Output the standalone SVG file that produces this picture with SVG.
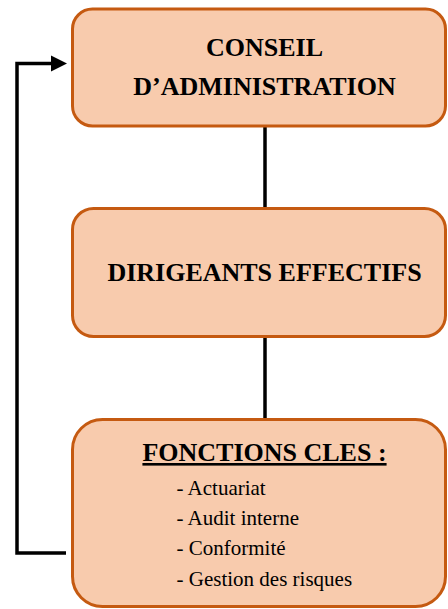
<svg xmlns="http://www.w3.org/2000/svg" width="448" height="609" viewBox="0 0 448 609">
<style>
.box{fill:#F8CBAD;stroke:#C55A11;stroke-width:3}
.title{font-weight:bold;font-size:26px;fill:#000;text-anchor:middle}
.item{font-size:21px;fill:#000}
.conn{fill:none;stroke:#000;stroke-width:3.5}
</style>
<g id="connectors">
<line class="conn" x1="265" y1="127" x2="265" y2="208"/>
<line class="conn" x1="265" y1="337" x2="265" y2="419"/>
<polyline class="conn" points="66,553 17,553 17,63.5 52,63.5"/>
<path d="M51,55.5 L67,63.5 L51,71.5 Z" fill="#000"/>
</g>
<g font-family="Liberation Serif, DejaVu Serif, serif">
<g id="conseil">
<rect class="box" x="72.5" y="9" width="373" height="117" rx="20" ry="20"/>
<text class="title" x="264.5" y="56">CONSEIL</text>
<text class="title" x="264.5" y="95">D’ADMINISTRATION</text>
</g>
<g id="dirigeants">
<rect class="box" x="72.5" y="208.5" width="373" height="128" rx="21" ry="21"/>
<text class="title" x="264.5" y="281">DIRIGEANTS EFFECTIFS</text>
</g>
<g id="fonctions">
<rect class="box" x="72.5" y="419.5" width="373" height="187" rx="30" ry="30"/>
<text class="title" x="264.5" y="461" text-decoration="underline">FONCTIONS CLES :</text>
<text class="item" x="176.5" y="495">- Actuariat</text>
<text class="item" x="176.5" y="524.5">- Audit interne</text>
<text class="item" x="176.5" y="555">- Conformité</text>
<text class="item" x="176.5" y="585.5">- Gestion des risques</text>
</g>
</g>
</svg>
